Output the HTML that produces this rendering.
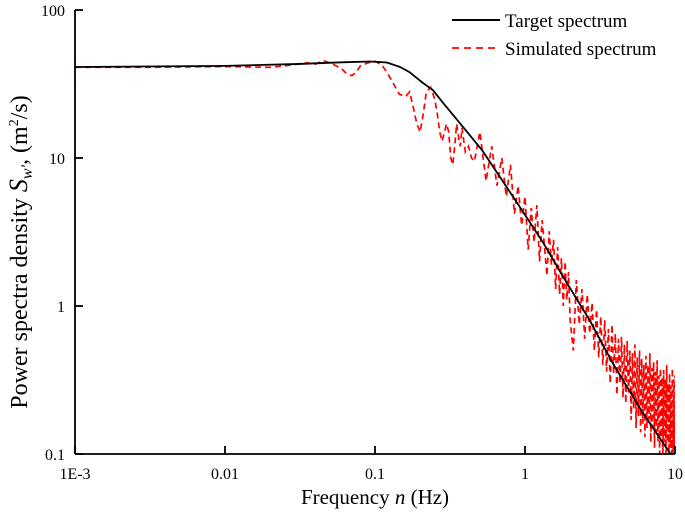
<!DOCTYPE html>
<html><head><meta charset="utf-8"><style>
html,body{margin:0;padding:0;background:#fff;}
svg{display:block;font-family:"Liberation Serif",serif;}
</style></head><body>
<svg id="chart" width="685" height="514" viewBox="0 0 685 514">
<defs><clipPath id="plotclip"><rect x="75" y="8" width="600" height="446"/></clipPath></defs>
<g id="plot" clip-path="url(#plotclip)"></g>
<g id="axes"></g>
<g>
<line x1="452" y1="20" x2="500" y2="20" stroke="#000" stroke-width="2"/>
<text x="505" y="27" font-size="19">Target spectrum</text>
<line x1="452" y1="48" x2="500" y2="48" stroke="#f00" stroke-width="1.8" stroke-dasharray="7,5"/>
<text x="505" y="55" font-size="19">Simulated spectrum</text>
</g>
<text x="375" y="504" font-size="21" text-anchor="middle">Frequency <tspan font-style="italic">n</tspan> (Hz)</text>
<text transform="translate(27,252) rotate(-90)" font-size="24" text-anchor="middle">Power spectra density <tspan font-style="italic" font-size="26">S</tspan><tspan font-style="italic" font-size="16" dy="5">w′</tspan><tspan dy="-5">,  (m</tspan><tspan font-size="14" dy="-9">2</tspan><tspan dy="9">/s)</tspan></text>
</svg>
<script>
const xTicks = [0.001, 0.01, 0.1, 1, 10];
const xTickLabels = ["1E-3", "0.01", "0.1", "1", "10"];
const yTicks = [0.1, 1, 10, 100];
const yTickLabels = ["0.1", "1", "10", "100"];
const targetFreq = [0.001, 0.01, 0.0316, 0.06, 0.0924, 0.12, 0.147, 0.17, 0.19, 0.21, 0.243, 0.29, 0.368, 0.44, 0.517, 0.681, 0.924, 1.3, 1.85, 2.7, 3.84, 6, 9.24, 11];
const targetVal = [41.2, 41.9, 43.2, 44.3, 44.9, 44.2, 41.2, 38, 34.7, 32, 28.8, 23, 17.2, 13.8, 11.3, 7.44, 4.67, 2.75, 1.50, 0.80, 0.412, 0.195, 0.1016, 0.075];
const simFreq = [0.001,0.003,0.01,0.02,0.025,0.03,0.035,0.04,0.045,0.05,0.055,0.06,0.065,0.07,0.075,0.08,0.09,0.1,0.11,0.12,0.13,0.145,0.16,0.17,0.18,0.19,0.2,0.21,0.22,0.235,0.25,0.26,0.27,0.28,0.3,0.31,0.32,0.33,0.34,0.35,0.36,0.37,0.38,0.4,0.42,0.44,0.46,
0.5,0.55,0.6,0.65,0.7,0.75,0.8,0.85,0.9,0.95,1.0,1.05,1.1,1.15,1.2,1.25,1.3,1.35,1.4,1.45,1.5,1.55,1.6,1.65,1.7,1.75,1.8,1.85,1.9,1.95,2.0,
2.1,2.2,2.3,2.4,2.5,2.6,2.7,2.8,2.9,3.0,3.1,3.2,3.3,3.4,3.5,3.6,3.7,3.8,3.9,4.0,4.1,4.2,4.3,4.4,4.5,4.6,4.7,4.8,4.9,5.0,5.1,5.2,5.3,5.4,5.5,5.6,5.7,5.8,5.9,6.0,6.1,6.2,6.3,6.4,6.5,6.6,6.7,6.8,6.9,7.0,7.1,7.2,7.3,7.4,7.5,7.6,7.7,7.8,7.9,8.0,8.1,8.2,8.3,8.4,8.5,8.6,8.7,8.8,8.9,9.0,9.1,9.2,9.3,9.4,9.5,9.6,9.7,9.8,9.9,10.0];
const simVal = [41,41,41.5,41,42,43,44,43,45.5,44,42,40,37,36,38,42,44,45,43,38,33,27,26,28,22,17,15,20,28,30,25,20,15,13,17,15,10,9,12,17,14,12,16,11,12,10,9.5,
15,7,12,6.5,10,5.5,9,4.2,6.5,3.5,5.5,2.4,4.6,2.7,4.8,2.0,3.8,2.5,1.6,3.2,1.9,2.8,1.3,2.5,1.2,2.1,1.0,2.0,1.1,1.7,0.8,
0.5,1.5,0.75,1.3,0.6,1.2,0.65,1.05,0.5,0.95,0.45,0.85,0.4,0.8,0.36,0.7,0.3,0.75,0.35,0.65,0.25,0.6,0.3,0.62,0.24,0.55,0.22,0.58,0.26,0.5,0.17,0.48,0.2,0.55,0.15,0.45,0.18,0.5,0.14,0.44,0.16,0.4,0.13,0.46,0.15,0.4,0.17,0.48,0.12,0.38,0.15,0.42,0.11,0.36,0.14,0.43,0.12,0.34,0.1,0.38,0.13,0.33,0.09,0.37,0.12,0.32,0.1,0.4,0.12,0.3,0.08,0.35,0.11,0.29,0.1,0.38,0.09,0.32,0.11,0.34];

const X0=75, XD=150, Y0=10, YD=148;
function xScale(n){return X0+(Math.log10(n)+3)*XD;}
function yScale(s){return Y0+(2-Math.log10(s))*YD;}
const NS="http://www.w3.org/2000/svg";
const plot=document.getElementById('plot'), axes=document.getElementById('axes');
function mk(tag,attrs,parent){const e=document.createElementNS(NS,tag);for(const k in attrs)e.setAttribute(k,attrs[k]);parent.appendChild(e);return e;}
function pts(f,v){return f.map((n,i)=>xScale(n).toFixed(2)+','+yScale(v[i]).toFixed(2)).join(' ');}

const sim=mk('polyline',{points:pts(simFreq,simVal),fill:'none',stroke:'#f00','stroke-width':1.7,'stroke-dasharray':'6,4'},plot);


const tgt=mk('polyline',{points:pts(targetFreq,targetVal),fill:'none',stroke:'#000','stroke-width':1.8,'stroke-linejoin':'round'},plot);



const xa=mk('line',{x1:X0,y1:yScale(0.1),x2:xScale(10),y2:yScale(0.1),stroke:'#000','stroke-width':1.8},axes);


const ya=mk('line',{x1:X0,y1:yScale(100),x2:X0,y2:yScale(0.1),stroke:'#000','stroke-width':1.8},axes);


xTicks.forEach((t,i)=>{
  const x=xScale(t), y=yScale(0.1);
  const tk=mk('line',{x1:x,y1:y,x2:x,y2:y-8,stroke:'#000','stroke-width':1.8},axes);
  
  
  const lb=mk('text',{x:x,y:479,'font-size':16,'text-anchor':'middle'},axes);
  lb.textContent=xTickLabels[i];
  
  
});
yTicks.forEach((t,i)=>{
  const y=yScale(t);
  const tk=mk('line',{x1:X0,y1:y,x2:X0+8,y2:y,stroke:'#000','stroke-width':1.8},axes);
  
  
  const lb=mk('text',{x:65,y:y+6,'font-size':16,'text-anchor':'end'},axes);
  lb.textContent=yTickLabels[i];
  
  
});
</script>
</body></html>
